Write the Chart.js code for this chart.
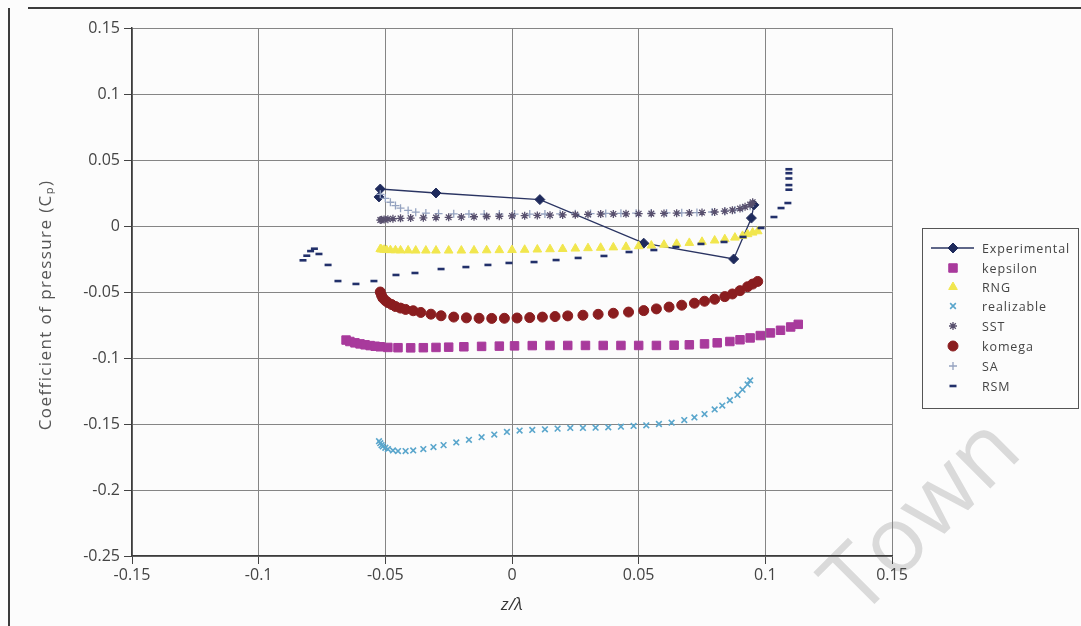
<!DOCTYPE html>
<html>
<head>
<meta charset="utf-8">
<script src="https://cdn.jsdelivr.net/npm/chart.js@4.4.1/dist/chart.umd.min.js"></script>
<style>
  html, body { margin: 0; padding: 0; background: #ffffff; }
  #wrap { position: relative; width: 1081px; height: 626px; overflow: hidden; background: #fcfcfc; }
  #edgeLeft { position: absolute; left: 8px; top: 8px; width: 2px; height: 620px; background: #3c3c3c; }
  #edgeTop { position: absolute; left: 28px; top: 7px; width: 1060px; height: 2px; background: #3c3c3c; }
  #mark { position: absolute; left: 790px; top: 550px; font: 92px 'Open Sans', sans-serif; color: #dadada;
          transform: rotate(-45deg); transform-origin: 0 0; white-space: nowrap; }
  canvas { position: absolute; left: 0; top: 0; }
</style>
</head>
<body>
<div id="wrap">
  <div id="mark">Town</div>
  <div id="edgeLeft"></div>
  <div id="edgeTop"></div>
  <canvas id="c" width="1081" height="626"></canvas>
</div>
<script>
// Axis ranges and tick spacing
const xTicks = [-0.15, -0.1, -0.05, 0, 0.05, 0.1, 0.15];
const yTicks = [-0.25, -0.2, -0.15, -0.1, -0.05, 0, 0.05, 0.1, 0.15];
const seriesNames = ['Experimental', 'kepsilon', 'RNG', 'realizable', 'SST', 'komega', 'SA', 'RSM'];

// Measured pressure coefficient
const expZ  = [-0.0525, -0.052, -0.030, 0.011, 0.052, 0.0875, 0.0945, 0.0955];
const expCp = [0.022, 0.028, 0.025, 0.020, -0.013, -0.025, 0.006, 0.016];

// k-epsilon
const kepsZ  = [-0.0655, -0.064, -0.062, -0.060, -0.058, -0.056, -0.054, -0.052, -0.049, -0.045, -0.040, -0.035, -0.030, -0.025, -0.019, -0.012, -0.005, 0.001, 0.008, 0.015, 0.022, 0.029, 0.036, 0.043, 0.050, 0.057, 0.064, 0.070, 0.076, 0.081, 0.086, 0.090, 0.094, 0.098, 0.102, 0.106, 0.110, 0.113];
const kepsCp = [-0.0864, -0.0875, -0.0885, -0.0893, -0.0900, -0.0906, -0.0911, -0.0915, -0.0920, -0.0922, -0.0923, -0.0922, -0.0920, -0.0918, -0.0915, -0.0912, -0.0910, -0.0908, -0.0906, -0.0905, -0.0905, -0.0905, -0.0905, -0.0905, -0.0905, -0.0905, -0.0903, -0.0900, -0.0893, -0.0885, -0.0875, -0.0862, -0.0848, -0.0830, -0.0810, -0.0790, -0.0765, -0.0745];

// RNG k-epsilon
const rngZ  = [-0.052, -0.0515, -0.0505, -0.0495, -0.048, -0.046, -0.044, -0.041, -0.038, -0.034, -0.030, -0.025, -0.020, -0.015, -0.010, -0.005, 0.000, 0.005, 0.010, 0.015, 0.020, 0.025, 0.030, 0.035, 0.040, 0.045, 0.050, 0.055, 0.060, 0.065, 0.070, 0.075, 0.080, 0.084, 0.088, 0.091, 0.093, 0.095, 0.097];
const rngCp = [-0.0175, -0.0178, -0.0180, -0.0182, -0.0183, -0.0184, -0.0185, -0.0185, -0.0186, -0.0186, -0.0186, -0.0186, -0.0186, -0.0185, -0.0184, -0.0183, -0.0182, -0.0180, -0.0178, -0.0176, -0.0174, -0.0171, -0.0168, -0.0165, -0.0162, -0.0158, -0.0153, -0.0148, -0.0142, -0.0135, -0.0128, -0.0120, -0.0110, -0.0100, -0.0088, -0.0075, -0.0062, -0.0050, -0.0040];

// Realizable k-epsilon
const realZ  = [-0.0525, -0.052, -0.0515, -0.051, -0.050, -0.049, -0.047, -0.045, -0.042, -0.039, -0.035, -0.031, -0.027, -0.022, -0.017, -0.012, -0.007, -0.002, 0.003, 0.008, 0.013, 0.018, 0.023, 0.028, 0.033, 0.038, 0.043, 0.048, 0.053, 0.058, 0.063, 0.068, 0.072, 0.076, 0.080, 0.083, 0.086, 0.089, 0.091, 0.093, 0.094];
const realCp = [-0.1630, -0.1645, -0.1660, -0.1670, -0.1680, -0.1690, -0.1700, -0.1705, -0.1705, -0.1700, -0.1690, -0.1675, -0.1660, -0.1640, -0.1620, -0.1600, -0.1580, -0.1560, -0.1550, -0.1545, -0.1540, -0.1535, -0.1530, -0.1530, -0.1528, -0.1525, -0.1520, -0.1515, -0.1510, -0.1500, -0.1490, -0.1470, -0.1450, -0.1425, -0.1390, -0.1360, -0.1320, -0.1280, -0.1240, -0.1200, -0.1170];

// SST k-omega
const sstZ  = [-0.052, -0.0515, -0.0505, -0.049, -0.047, -0.044, -0.040, -0.035, -0.030, -0.025, -0.020, -0.015, -0.010, -0.005, 0.000, 0.005, 0.010, 0.015, 0.020, 0.025, 0.030, 0.035, 0.040, 0.045, 0.050, 0.055, 0.060, 0.065, 0.070, 0.075, 0.080, 0.084, 0.087, 0.090, 0.092, 0.094, 0.095];
const sstCp = [0.0045, 0.0048, 0.0050, 0.0052, 0.0055, 0.0058, 0.0060, 0.0062, 0.0064, 0.0066, 0.0068, 0.0070, 0.0072, 0.0074, 0.0076, 0.0078, 0.0080, 0.0082, 0.0084, 0.0086, 0.0088, 0.0090, 0.0091, 0.0092, 0.0093, 0.0094, 0.0095, 0.0097, 0.0099, 0.0102, 0.0106, 0.0112, 0.0120, 0.0132, 0.0145, 0.0162, 0.0180];

// Standard k-omega
const komZ  = [-0.052, -0.0515, -0.051, -0.050, -0.049, -0.0475, -0.046, -0.044, -0.042, -0.039, -0.036, -0.032, -0.028, -0.023, -0.018, -0.013, -0.008, -0.003, 0.002, 0.007, 0.012, 0.017, 0.022, 0.028, 0.034, 0.040, 0.046, 0.052, 0.057, 0.062, 0.067, 0.072, 0.076, 0.080, 0.084, 0.087, 0.090, 0.093, 0.095, 0.097];
const komCp = [-0.0500, -0.0525, -0.0545, -0.0565, -0.0580, -0.0595, -0.0610, -0.0622, -0.0632, -0.0642, -0.0655, -0.0668, -0.0680, -0.0690, -0.0696, -0.0699, -0.0700, -0.0699, -0.0697, -0.0694, -0.0690, -0.0686, -0.0681, -0.0676, -0.0669, -0.0661, -0.0652, -0.0641, -0.0628, -0.0614, -0.0600, -0.0585, -0.0570, -0.0555, -0.0535, -0.0515, -0.0490, -0.0460, -0.0440, -0.0420];

// Spalart-Allmaras
const saZ  = [-0.052, -0.050, -0.048, -0.046, -0.044, -0.041, -0.038, -0.034, -0.029, -0.023, -0.017, -0.011, -0.005, 0.001, 0.007, 0.013, 0.019, 0.025, 0.031, 0.037, 0.043, 0.049, 0.055, 0.061, 0.067, 0.073, 0.079, 0.084, 0.088, 0.091, 0.094];
const saCp = [0.0240, 0.0210, 0.0180, 0.0155, 0.0135, 0.0118, 0.0105, 0.0098, 0.0094, 0.0092, 0.0091, 0.0090, 0.0090, 0.0090, 0.0090, 0.0091, 0.0092, 0.0093, 0.0094, 0.0095, 0.0096, 0.0097, 0.0098, 0.0099, 0.0100, 0.0102, 0.0106, 0.0112, 0.0122, 0.0135, 0.0150];

// Reynolds stress model
const rsmZ  = [-0.0825, -0.081, -0.0795, -0.078, -0.0762, -0.0726, -0.0687, -0.0616, -0.0545, -0.0458, -0.0383, -0.0280, -0.0182, -0.0095, -0.0012, 0.0087, 0.0174, 0.0261, 0.0363, 0.0462, 0.0560, 0.0647, 0.0746, 0.0837, 0.0912, 0.0983, 0.1034, 0.1062, 0.1089, 0.1093, 0.1093, 0.1093, 0.1093, 0.1093];
const rsmCp = [-0.0260, -0.0225, -0.0190, -0.0172, -0.0212, -0.0295, -0.0417, -0.0439, -0.0417, -0.0371, -0.0356, -0.0326, -0.0311, -0.0295, -0.0280, -0.0273, -0.0258, -0.0242, -0.0227, -0.0197, -0.0182, -0.0159, -0.0136, -0.0121, -0.0083, -0.0015, 0.0068, 0.0136, 0.0174, 0.0275, 0.0310, 0.0360, 0.0400, 0.0430];

const pts = (zs, cps) => zs.map((z, i) => ({ x: z, y: cps[i] }));

function marker(label, zs, cps, color, style, radius, extra) {
  return Object.assign({
    label, data: pts(zs, cps), showLine: false,
    pointStyle: style, pointRadius: radius, pointHoverRadius: radius,
    backgroundColor: color, borderColor: color, pointBorderWidth: 1
  }, extra || {});
}

const datasets = [
  marker(seriesNames[3], realZ, realCp, '#5aa6cc', 'crossRot', 4, { pointBorderWidth: 1.6 }),
  marker(seriesNames[1], kepsZ, kepsCp, '#a83a9c', 'rect', 6),
  marker(seriesNames[5], komZ, komCp, '#8a1d1f', 'circle', 5),
  marker(seriesNames[7], rsmZ, rsmCp, '#22306a', 'line', 3.5, { pointBorderWidth: 2.6 }),
  marker(seriesNames[2], rngZ, rngCp, '#f1e64e', 'triangle', 5),
  marker(seriesNames[4], sstZ, sstCp, '#58506e', 'star', 4, { pointBorderWidth: 1.3 }),
  marker(seriesNames[6], saZ, saCp, '#95a3c0', 'cross', 4, { pointBorderWidth: 1.3 }),
  {
    label: seriesNames[0], data: pts(expZ, expCp), showLine: true,
    borderColor: '#2a3462', borderWidth: 1.3, backgroundColor: '#1e2a5c',
    pointStyle: 'rectRot', pointRadius: 5, pointHoverRadius: 5, pointBorderWidth: 1, tension: 0
  }
];

// Legend order as listed in the key
const legendOrder = [7, 1, 4, 0, 5, 2, 6, 3];

const fmt = v => { const r = Math.round(v * 100) / 100; return r === 0 ? '0' : String(r); };

const keyPlugin = {
  id: 'keyBox',
  afterDraw(chart) {
    const ctx = chart.ctx;
    const H = Chart.helpers;
    ctx.save();
    // key frame
    ctx.strokeStyle = '#555';
    ctx.lineWidth = 1;
    ctx.strokeRect(922.5, 228.5, 156, 180);
    const rowY = [248, 268, 287, 306, 326, 346, 366, 386];
    ctx.font = "12.5px 'Open Sans', sans-serif";
    ctx.textBaseline = 'middle';
    ctx.textAlign = 'left';
    try { ctx.letterSpacing = '0.9px'; } catch (e) {}
    legendOrder.forEach((di, i) => {
      const ds = chart.data.datasets[di];
      const y = rowY[i];
      if (ds.showLine) {
        ctx.strokeStyle = ds.borderColor;
        ctx.lineWidth = 1.5;
        ctx.beginPath(); ctx.moveTo(931, y); ctx.lineTo(974, y); ctx.stroke();
      }
      ctx.fillStyle = ds.backgroundColor;
      ctx.strokeStyle = ds.showLine ? ds.backgroundColor : ds.borderColor;
      ctx.lineWidth = ds.pointBorderWidth || 1;
      H.drawPoint(ctx, { pointStyle: ds.pointStyle, radius: ds.pointRadius, rotation: 0, borderWidth: ds.pointBorderWidth || 1 }, 953, y);
      ctx.fillStyle = '#444';
      ctx.fillText(ds.label, 982, y + 1);
    });
    // axis titles
    ctx.fillStyle = '#555';
    ctx.font = "17px 'Open Sans', sans-serif";
    try { ctx.letterSpacing = '1.4px'; } catch (e) {}
    ctx.textAlign = 'center';
    ctx.save();
    ctx.translate(46, 305);
    ctx.rotate(-Math.PI / 2);
    ctx.fillText('Coefficient of pressure (C\u209A)', 0, 0);
    ctx.restore();
    ctx.font = "italic 17px 'Open Sans', sans-serif";
    try { ctx.letterSpacing = '0px'; } catch (e) {}
    ctx.fillStyle = '#333';
    ctx.fillText('z/\u03BB', 512, 605);
    ctx.restore();
  }
};

new Chart(document.getElementById('c'), {
  type: 'scatter',
  data: { datasets },
  options: {
    responsive: false,
    animation: false,
    events: [],
    layout: { padding: { top: 28, right: 189, left: 0, bottom: 0 } },
    plugins: { legend: { display: false }, tooltip: { enabled: false } },
    scales: {
      x: {
        type: 'linear', min: xTicks[0], max: xTicks[xTicks.length - 1],
        afterBuildTicks: s => { s.ticks = xTicks.map(v => ({ value: v })); },
        ticks: { callback: fmt, color: '#444', font: { family: "'Open Sans', sans-serif", size: 16 }, padding: 2, maxRotation: 0, autoSkip: false },
        grid: { color: '#858585', lineWidth: 1, tickLength: 8, tickColor: '#444' },
        border: { color: '#3c3c3c', width: 1.5 },
        afterFit: s => { s.height = 70; }
      },
      y: {
        type: 'linear', min: yTicks[0], max: yTicks[yTicks.length - 1],
        afterBuildTicks: s => { s.ticks = yTicks.map(v => ({ value: v })); },
        ticks: { callback: fmt, color: '#444', font: { family: "'Open Sans', sans-serif", size: 16 }, padding: 4, autoSkip: false },
        grid: { color: '#858585', lineWidth: 1, tickLength: 8, tickColor: '#444' },
        border: { color: '#3c3c3c', width: 1.5 },
        afterFit: s => { s.width = 132; }
      }
    }
  },
  plugins: [keyPlugin]
});
</script>
</body>
</html>
